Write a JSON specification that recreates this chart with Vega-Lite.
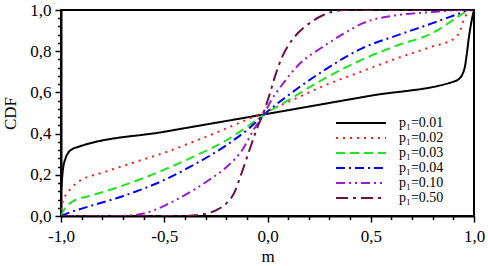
{
  "$schema": "https://vega.github.io/schema/vega-lite/v6.json",
  "width": 413,
  "height": 206,
  "autosize": "none",
  "padding": {"left": 61, "top": 10, "right": 14, "bottom": 50},
  "background": "white",
  "config": {
    "view": {"stroke": "black", "strokeWidth": 2},
    "font": "Liberation Serif",
    "axis": {
      "grid": false,
      "domainColor": "black",
      "domainWidth": 2,
      "tickColor": "black",
      "tickWidth": 1.5,
      "labelFont": "Liberation Serif",
      "titleFont": "Liberation Serif",
      "labelFontSize": 17,
      "titleFontSize": 17,
      "labelColor": "black",
      "titleColor": "black",
      "titleFontWeight": "normal",
      "labelOverlap": false,
      "labelFlush": false
    }
  },
  "data": {
    "values": [
      {"p": "0.01", "m": -1.0, "cdf": 0.12},
      {"p": "0.01", "m": -0.99, "cdf": 0.23},
      {"p": "0.01", "m": -0.978, "cdf": 0.28},
      {"p": "0.01", "m": -0.963, "cdf": 0.31},
      {"p": "0.01", "m": -0.945, "cdf": 0.325},
      {"p": "0.01", "m": -0.915, "cdf": 0.336},
      {"p": "0.01", "m": -0.5, "cdf": 0.409},
      {"p": "0.01", "m": 0.0, "cdf": 0.496},
      {"p": "0.01", "m": 0.5, "cdf": 0.584},
      {"p": "0.01", "m": 0.909, "cdf": 0.655},
      {"p": "0.01", "m": 0.93, "cdf": 0.668},
      {"p": "0.01", "m": 0.945, "cdf": 0.69},
      {"p": "0.01", "m": 0.956, "cdf": 0.725},
      {"p": "0.01", "m": 0.965, "cdf": 0.785},
      {"p": "0.01", "m": 0.975, "cdf": 0.865},
      {"p": "0.01", "m": 0.987, "cdf": 0.94},
      {"p": "0.01", "m": 1.0, "cdf": 1.0},

      {"p": "0.02", "m": -1.0, "cdf": 0.03},
      {"p": "0.02", "m": -0.99, "cdf": 0.075},
      {"p": "0.02", "m": -0.975, "cdf": 0.105},
      {"p": "0.02", "m": -0.955, "cdf": 0.13},
      {"p": "0.02", "m": -0.93, "cdf": 0.155},
      {"p": "0.02", "m": -0.9, "cdf": 0.176},
      {"p": "0.02", "m": -0.8, "cdf": 0.21},
      {"p": "0.02", "m": -0.7, "cdf": 0.243},
      {"p": "0.02", "m": -0.6, "cdf": 0.275},
      {"p": "0.02", "m": -0.5, "cdf": 0.307},
      {"p": "0.02", "m": -0.358, "cdf": 0.361},
      {"p": "0.02", "m": -0.197, "cdf": 0.426},
      {"p": "0.02", "m": -0.05, "cdf": 0.49},
      {"p": "0.02", "m": 0.086, "cdf": 0.547},
      {"p": "0.02", "m": 0.263, "cdf": 0.628},
      {"p": "0.02", "m": 0.46, "cdf": 0.703},
      {"p": "0.02", "m": 0.634, "cdf": 0.768},
      {"p": "0.02", "m": 0.796, "cdf": 0.822},
      {"p": "0.02", "m": 0.905, "cdf": 0.862},
      {"p": "0.02", "m": 0.933, "cdf": 0.9},
      {"p": "0.02", "m": 0.95, "cdf": 0.95},
      {"p": "0.02", "m": 0.972, "cdf": 0.99},
      {"p": "0.02", "m": 0.99, "cdf": 1.0},
      {"p": "0.02", "m": 1.0, "cdf": 1.0},

      {"p": "0.03", "m": -1.0, "cdf": 0.0},
      {"p": "0.03", "m": -0.985, "cdf": 0.03},
      {"p": "0.03", "m": -0.97, "cdf": 0.049},
      {"p": "0.03", "m": -0.95, "cdf": 0.066},
      {"p": "0.03", "m": -0.93, "cdf": 0.078},
      {"p": "0.03", "m": -0.866, "cdf": 0.096},
      {"p": "0.03", "m": -0.705, "cdf": 0.146},
      {"p": "0.03", "m": -0.5, "cdf": 0.225},
      {"p": "0.03", "m": -0.358, "cdf": 0.288},
      {"p": "0.03", "m": -0.197, "cdf": 0.369},
      {"p": "0.03", "m": -0.1, "cdf": 0.432},
      {"p": "0.03", "m": -0.02, "cdf": 0.49},
      {"p": "0.03", "m": 0.102, "cdf": 0.563},
      {"p": "0.03", "m": 0.263, "cdf": 0.66},
      {"p": "0.03", "m": 0.46, "cdf": 0.76},
      {"p": "0.03", "m": 0.634, "cdf": 0.83},
      {"p": "0.03", "m": 0.796, "cdf": 0.887},
      {"p": "0.03", "m": 0.86, "cdf": 0.925},
      {"p": "0.03", "m": 0.909, "cdf": 0.958},
      {"p": "0.03", "m": 0.957, "cdf": 0.99},
      {"p": "0.03", "m": 0.985, "cdf": 1.0},
      {"p": "0.03", "m": 1.0, "cdf": 1.0},

      {"p": "0.04", "m": -1.0, "cdf": 0.0},
      {"p": "0.04", "m": -0.947, "cdf": 0.021},
      {"p": "0.04", "m": -0.866, "cdf": 0.046},
      {"p": "0.04", "m": -0.705, "cdf": 0.095},
      {"p": "0.04", "m": -0.5, "cdf": 0.175},
      {"p": "0.04", "m": -0.358, "cdf": 0.248},
      {"p": "0.04", "m": -0.197, "cdf": 0.345},
      {"p": "0.04", "m": -0.084, "cdf": 0.43},
      {"p": "0.04", "m": -0.02, "cdf": 0.49},
      {"p": "0.04", "m": 0.102, "cdf": 0.587},
      {"p": "0.04", "m": 0.263, "cdf": 0.7},
      {"p": "0.04", "m": 0.46, "cdf": 0.815},
      {"p": "0.04", "m": 0.634, "cdf": 0.879},
      {"p": "0.04", "m": 0.796, "cdf": 0.935},
      {"p": "0.04", "m": 0.925, "cdf": 0.982},
      {"p": "0.04", "m": 0.975, "cdf": 1.0},
      {"p": "0.04", "m": 1.0, "cdf": 1.0},

      {"p": "0.10", "m": -1.0, "cdf": 0.0},
      {"p": "0.10", "m": -0.75, "cdf": 0.0},
      {"p": "0.10", "m": -0.65, "cdf": 0.004},
      {"p": "0.10", "m": -0.6, "cdf": 0.012},
      {"p": "0.10", "m": -0.55, "cdf": 0.028},
      {"p": "0.10", "m": -0.495, "cdf": 0.052},
      {"p": "0.10", "m": -0.43, "cdf": 0.085},
      {"p": "0.10", "m": -0.358, "cdf": 0.126},
      {"p": "0.10", "m": -0.28, "cdf": 0.177},
      {"p": "0.10", "m": -0.197, "cdf": 0.239},
      {"p": "0.10", "m": -0.116, "cdf": 0.33},
      {"p": "0.10", "m": -0.068, "cdf": 0.418},
      {"p": "0.10", "m": -0.02, "cdf": 0.49},
      {"p": "0.10", "m": 0.02, "cdf": 0.565},
      {"p": "0.10", "m": 0.07, "cdf": 0.636},
      {"p": "0.10", "m": 0.15, "cdf": 0.733},
      {"p": "0.10", "m": 0.263, "cdf": 0.818},
      {"p": "0.10", "m": 0.36, "cdf": 0.88},
      {"p": "0.10", "m": 0.46, "cdf": 0.935},
      {"p": "0.10", "m": 0.634, "cdf": 0.976},
      {"p": "0.10", "m": 0.796, "cdf": 0.99},
      {"p": "0.10", "m": 0.957, "cdf": 1.0},
      {"p": "0.10", "m": 1.0, "cdf": 1.0},

      {"p": "0.50", "m": -1.0, "cdf": 0.0},
      {"p": "0.50", "m": -0.42, "cdf": 0.0},
      {"p": "0.50", "m": -0.36, "cdf": 0.003},
      {"p": "0.50", "m": -0.3, "cdf": 0.011},
      {"p": "0.50", "m": -0.245, "cdf": 0.03},
      {"p": "0.50", "m": -0.197, "cdf": 0.064},
      {"p": "0.50", "m": -0.16, "cdf": 0.115},
      {"p": "0.50", "m": -0.132, "cdf": 0.19},
      {"p": "0.50", "m": -0.084, "cdf": 0.33},
      {"p": "0.50", "m": -0.051, "cdf": 0.425},
      {"p": "0.50", "m": -0.02, "cdf": 0.5},
      {"p": "0.50", "m": 0.01, "cdf": 0.59},
      {"p": "0.50", "m": 0.037, "cdf": 0.68},
      {"p": "0.50", "m": 0.07, "cdf": 0.77},
      {"p": "0.50", "m": 0.102, "cdf": 0.83},
      {"p": "0.50", "m": 0.14, "cdf": 0.88},
      {"p": "0.50", "m": 0.183, "cdf": 0.92},
      {"p": "0.50", "m": 0.263, "cdf": 0.972},
      {"p": "0.50", "m": 0.32, "cdf": 0.993},
      {"p": "0.50", "m": 0.37, "cdf": 1.0},
      {"p": "0.50", "m": 1.0, "cdf": 1.0}
    ]
  },
  "mark": {"type": "line", "strokeWidth": 2, "interpolate": "monotone", "clip": true},
  "encoding": {
    "x": {
      "field": "m",
      "type": "quantitative",
      "scale": {"domain": [-1, 1], "nice": false, "zero": false},
      "axis": {
        "title": "m",
        "values": [-1, -0.9, -0.8, -0.7, -0.6, -0.5, -0.4, -0.3, -0.2, -0.1, 0, 0.1, 0.2, 0.3, 0.4, 0.5, 0.6, 0.7, 0.8, 0.9, 1],
        "tickSize": {"condition": {"test": "abs(datum.value*2 - round(datum.value*2)) < 0.01", "value": 6}, "value": 3.5},
        "labelExpr": "abs(datum.value*2 - round(datum.value*2)) < 0.01 ? (datum.value < 0 ? '-' : '') + replace(format(abs(datum.value), '.1f'), '.', ',') : ''",
        "labelPadding": 6,
        "titlePadding": 4
      }
    },
    "y": {
      "field": "cdf",
      "type": "quantitative",
      "scale": {"domain": [0, 1], "nice": false},
      "axis": {
        "title": "CDF",
        "values": [0, 0.04, 0.08, 0.12, 0.16, 0.2, 0.24, 0.28, 0.32, 0.36, 0.4, 0.44, 0.48, 0.52, 0.56, 0.6, 0.64, 0.68, 0.72, 0.76, 0.8, 0.84, 0.88, 0.92, 0.96, 1],
        "tickSize": {"condition": {"test": "abs(datum.value*5 - round(datum.value*5)) < 0.01", "value": 6}, "value": 3.5},
        "labelExpr": "abs(datum.value*5 - round(datum.value*5)) < 0.01 ? replace(format(datum.value, '.1f'), '.', ',') : ''",
        "labelPadding": 4,
        "titlePadding": 10
      }
    },
    "color": {
      "field": "p",
      "type": "nominal",
      "scale": {
        "domain": ["0.01", "0.02", "0.03", "0.04", "0.10", "0.50"],
        "range": ["#000000", "#ff1a1a", "#1ee61e", "#0000ff", "#9a1ad6", "#6a0f48"]
      },
      "legend": {
        "orient": "none",
        "legendX": 293,
        "legendY": 106,
        "title": null,
        "symbolType": "M-5,0H5",
        "symbolSize": 100,
        "symbolStrokeWidth": 2,
        "labelFont": "Liberation Serif",
        "labelFontSize": 14,
        "labelColor": "black",
        "labelExpr": "'p₁=' + datum.label",
        "labelOffset": 31,
        "labelLimit": 0,
        "rowPadding": 1,
        "padding": 0
      }
    },
    "strokeDash": {
      "field": "p",
      "type": "nominal",
      "scale": {
        "domain": ["0.01", "0.02", "0.03", "0.04", "0.10", "0.50"],
        "range": [[1, 0], [2, 5], [9, 5], [9, 4, 2, 4], [9, 4, 2, 4, 2, 4], [12, 5, 3, 5]]
      }
    }
  }
}
